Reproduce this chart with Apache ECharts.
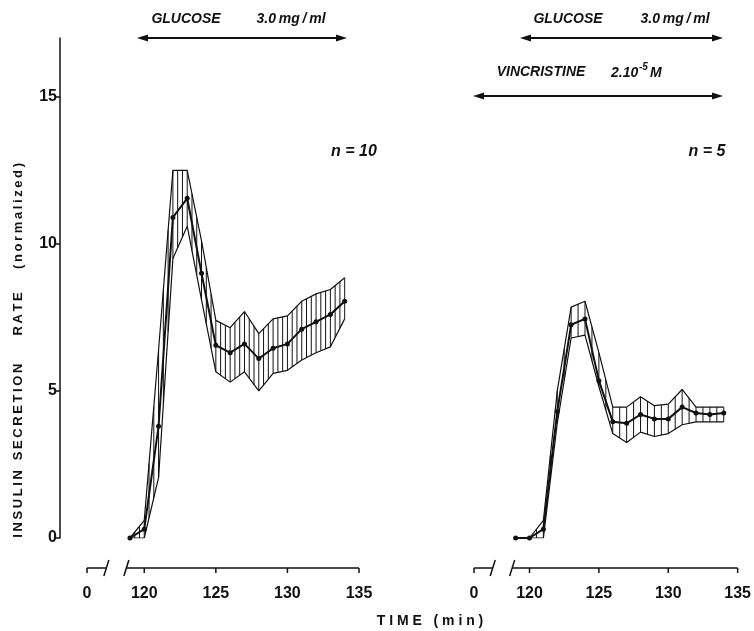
<!DOCTYPE html>
<html><head><meta charset="utf-8">
<script src="https://cdn.jsdelivr.net/npm/echarts@6/dist/echarts.min.js"></script>
<style>html,body{margin:0;padding:0;background:#fff}#c{width:754px;height:631px}</style>
</head><body><div id="c"></div>
<script>
// ---- data (time in min; 116 on the axis stands for the "0" before the break) ----
const timesL = [119,120,121,122,123,124,125,126,127,128,129,130,131,132,133,134];
const meanL  = [0, 0.3, 3.8, 10.9, 11.55, 9.0, 6.55, 6.3, 6.6, 6.1, 6.45, 6.6, 7.1, 7.35, 7.6, 8.05];
const upperL = [0, 0.6, 6.4, 12.5, 12.5, 10.1, 7.4, 7.15, 7.7, 6.95, 7.45, 7.55, 8.05, 8.3, 8.45, 8.85];
const lowerL = [0, 0, 2.05, 9.5, 10.6, 8.1, 5.65, 5.3, 5.65, 5.0, 5.6, 5.7, 6.05, 6.3, 6.5, 7.45];

const timesR = [119,120,121,122,123,124,125,126,127,128,129,130,131,132,133,134];
const meanR  = [0, 0, 0.3, 4.3, 7.25, 7.45, 5.35, 3.95, 3.9, 4.2, 4.05, 4.05, 4.45, 4.25, 4.2, 4.25];
const upperR = [0, 0, 0.6, 5.0, 7.85, 8.05, 6.3, 4.45, 4.45, 4.8, 4.5, 4.55, 5.05, 4.45, 4.45, 4.45];
const lowerR = [0, 0, 0, 3.9, 6.8, 6.9, 5.15, 3.55, 3.25, 3.6, 3.45, 3.55, 3.85, 3.95, 3.95, 3.95];

const xTickValues = [116, 120, 125, 130, 135];
const xTickLabels = ['0', '120', '125', '130', '135'];
const yTickValues = [0, 5, 10, 15];
const yTickLabels = ['0', '5', '10', '15'];
const breakBefore = 117.35, breakAfter = 118.75;

const FONT = '"Liberation Sans", Arial, Helvetica, sans-serif';
const INK = '#111';
const TS = '\u2009'; // thin space used for letter spacing

function spaced(word) { return word.split('').join(TS); }

function bandItems(t, lo, up) {
  return t.map((v, i) => {
    const j = Math.min(i + 1, t.length - 1);
    return [t[i], lo[i], up[i], t[j], lo[j], up[j]];
  });
}
function pairs(t, v) { return t.map((x, i) => [x, v[i]]); }

function hatchRender(per) {
  return function (params, api) {
    const t0 = api.value(0), l0 = api.value(1), u0 = api.value(2);
    const t1 = api.value(3), l1 = api.value(4), u1 = api.value(5);
    const a0 = api.coord([t0, l0]), b0 = api.coord([t0, u0]);
    const a1 = api.coord([t1, l1]), b1 = api.coord([t1, u1]);
    const n = (t1 === t0) ? 1 : per;
    const children = [];
    for (let k = 0; k < n; k++) {
      const f = k / n;
      const x = a0[0] + (a1[0] - a0[0]) * f;
      const yl = a0[1] + (a1[1] - a0[1]) * f;
      const yu = b0[1] + (b1[1] - b0[1]) * f;
      if (yl - yu > 0.8) {
        children.push({ type: 'line', shape: { x1: x, y1: yl, x2: x, y2: yu },
          style: { stroke: INK, lineWidth: 1 } });
      }
    }
    return { type: 'group', children };
  };
}

function axisRender(params, api) {
  const cs = params.coordSys;
  const y = cs.y + cs.height + 30;
  const x0 = api.coord([xTickValues[0], 0])[0];
  const xb1 = api.coord([breakBefore, 0])[0];
  const xb2 = api.coord([breakAfter, 0])[0];
  const xe = api.coord([xTickValues[xTickValues.length - 1], 0])[0];
  const st = { stroke: INK, lineWidth: 1.5 };
  const children = [
    { type: 'line', shape: { x1: x0, y1: y, x2: xb1, y2: y }, style: st },
    { type: 'line', shape: { x1: xb1 - 2.5, y1: y + 8, x2: xb1 + 2.5, y2: y - 8 }, style: st },
    { type: 'line', shape: { x1: xb2 - 2.5, y1: y + 8, x2: xb2 + 2.5, y2: y - 8 }, style: st },
    { type: 'line', shape: { x1: xb2, y1: y, x2: xe, y2: y }, style: st }
  ];
  xTickValues.forEach(v => {
    const x = api.coord([v, 0])[0];
    children.push({ type: 'line', shape: { x1: x, y1: y, x2: x, y2: y + 5 }, style: st });
  });
  return { type: 'group', children };
}

function xAxisCfg(gi) {
  return {
    gridIndex: gi, type: 'value', min: 116, max: 135, offset: 30,
    axisLine: { show: false, onZero: false },
    splitLine: { show: false },
    axisTick: { show: false },
    axisLabel: { show: true, customValues: xTickValues, margin: 18,
      formatter: v => xTickLabels[xTickValues.indexOf(v)],
      color: INK, fontFamily: FONT, fontWeight: 'bold', fontSize: 16 }
  };
}

function panelSeries(gi, t, mean, up, lo, per) {
  return [
    { type: 'custom', xAxisIndex: gi, yAxisIndex: gi, renderItem: hatchRender(per),
      data: bandItems(t, lo, up), encode: { x: [0, 3], y: [1, 2, 4, 5] }, z: 1, silent: true },
    { type: 'line', xAxisIndex: gi, yAxisIndex: gi, data: pairs(t, up), showSymbol: false,
      lineStyle: { color: INK, width: 1.2 }, z: 2, silent: true },
    { type: 'line', xAxisIndex: gi, yAxisIndex: gi, data: pairs(t, lo), showSymbol: false,
      lineStyle: { color: INK, width: 1.2 }, z: 2, silent: true },
    { type: 'line', xAxisIndex: gi, yAxisIndex: gi, data: pairs(t, mean), symbol: 'circle',
      symbolSize: 5, itemStyle: { color: INK }, lineStyle: { color: INK, width: 2 }, z: 3, silent: true },
    { type: 'custom', xAxisIndex: gi, yAxisIndex: gi, renderItem: axisRender, data: [[116, 0]],
      clip: false, z: 4, silent: true }
  ];
}

function arrow(x1, x2, y) {
  const L = 11, W = 3.5;
  return { type: 'group', children: [
    { type: 'line', shape: { x1: x1 + 4, y1: y, x2: x2 - 4, y2: y }, style: { stroke: INK, lineWidth: 2 } },
    { type: 'polygon', shape: { points: [[x1, y], [x1 + L, y - W], [x1 + L, y + W]] }, style: { fill: INK } },
    { type: 'polygon', shape: { points: [[x2, y], [x2 - L, y - W], [x2 - L, y + W]] }, style: { fill: INK } }
  ] };
}
function txt(text, x, y, font, align, extra) {
  return Object.assign({ type: 'text', x, y, style: { text, fill: INK, font,
    textAlign: align || 'center', textVerticalAlign: 'middle' } }, extra || {});
}
const IT = 'italic bold 14px ' + FONT;
const rot = { rotation: Math.PI / 2 };
const YF = 'bold 13px ' + FONT;

const chart = echarts.init(document.getElementById('c'), null, { renderer: 'canvas' });
chart.setOption({
  animation: false,
  backgroundColor: '#fff',
  grid: [
    { left: 87, top: 38, width: 272, height: 500 },
    { left: 474, top: 38, width: 270, height: 500 }
  ],
  xAxis: [xAxisCfg(0), xAxisCfg(1)],
  yAxis: [
    { gridIndex: 0, type: 'value', min: 0, max: 17, offset: 27,
      axisLine: { show: true, lineStyle: { color: INK, width: 1.5 } },
      splitLine: { show: false },
      axisTick: { show: true, length: 4, customValues: yTickValues, lineStyle: { color: INK, width: 1.5 } },
      axisLabel: { customValues: yTickValues, margin: 3,
        formatter: v => yTickLabels[yTickValues.indexOf(v)],
        color: INK, fontFamily: FONT, fontSize: 16, fontWeight: 'bold' } },
    { gridIndex: 1, type: 'value', min: 0, max: 17, show: false }
  ],
  series: [].concat(
    panelSeries(0, timesL, meanL, upperL, lowerL, 3),
    panelSeries(1, timesR, meanR, upperR, lowerR, 2)
  ),
  graphic: [
    txt('GLUCOSE', 186, 19, IT),
    txt('3.0' + TS + 'mg' + TS + '/' + TS + 'ml', 291, 19, IT),
    arrow(137, 347, 38),
    txt('GLUCOSE', 568, 19, IT),
    txt('3.0' + TS + 'mg' + TS + '/' + TS + 'ml', 675, 19, IT),
    arrow(520, 723, 38),
    txt('VINCRISTINE', 541, 72, IT),
    txt('2.10', 611, 73, IT, 'left'),
    txt('-5', 639, 67, 'italic bold 10px ' + FONT, 'left'),
    txt('M', 650, 73, IT, 'left'),
    arrow(473, 723, 96),
    txt('n = 10', 354, 152, 'italic bold 16px ' + FONT),
    txt('n = 5', 707, 152, 'italic bold 16px ' + FONT),
    txt('T I M E   ( m i n )', 430, 621, 'bold 14px ' + FONT),
    txt(spaced('INSULIN'), 18, 504, YF, 'center', rot),
    txt(spaced('SECRETION'), 18, 412, YF, 'center', rot),
    txt(spaced('RATE'), 18, 314, YF, 'center', rot),
    txt(spaced('(normalized)'), 18, 216, YF, 'center', rot)
  ]
});
</script></body></html>
